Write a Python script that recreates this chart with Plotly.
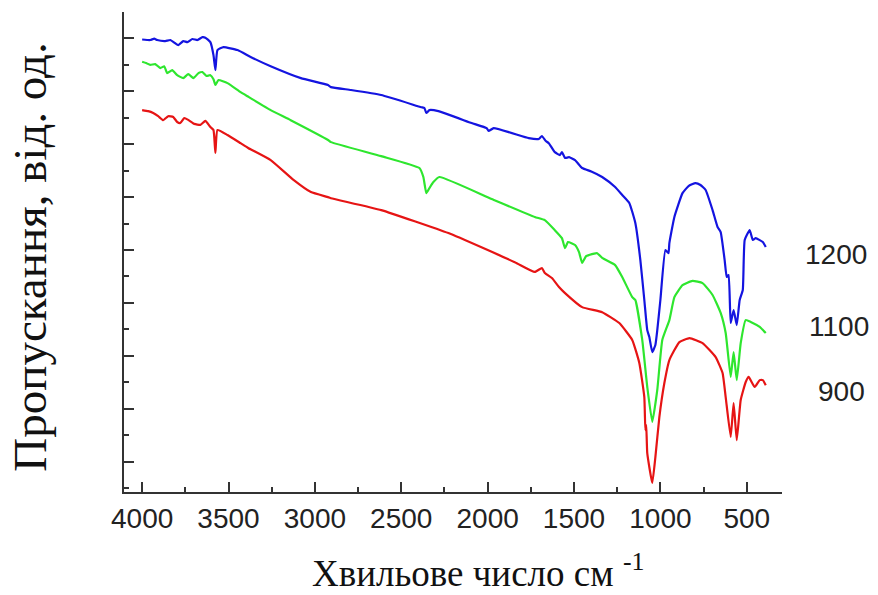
import plotly.graph_objects as go

# Wavenumber (cm^-1) and transmittance (arb. units) for each sample
wn_1200 = [4000, 3953, 3930, 3913, 3866, 3837, 3791, 3762, 3738, 3709, 3680, 3651, 3634, 3605, 3587, 3576,
           3564, 3529, 3448, 3372, 3256, 3081, 2924, 2907, 2791, 2616, 2384, 2366, 2355, 2337, 2285, 2093,
           2006, 1994, 1965, 1762, 1704, 1686, 1663, 1646, 1611, 1582, 1570, 1552, 1529, 1494, 1453, 1400,
           1337, 1262, 1221, 1180, 1145, 1116, 1093, 1076, 1064, 1047, 1029, 1018, 1000, 971, 953, 948,
           919, 872, 837, 797, 768, 738, 698, 669, 651, 628, 616, 605, 593, 576, 558, 541, 523, 512, 483,
           465, 448, 407, 390]
t_1200 = [16.96, 16.94, 16.99, 16.94, 16.90, 16.94, 16.75, 16.90, 16.86, 16.98, 16.94, 17.05, 17.03, 16.86, 16.37, 15.80,
          16.56, 16.67, 16.56, 16.30, 15.95, 15.50, 15.24, 15.16, 15.05, 14.86, 14.40, 14.37, 14.18, 14.29, 14.25, 13.80,
          13.61, 13.50, 13.61, 13.23, 13.20, 13.31, 13.12, 13.04, 12.70, 12.59, 12.70, 12.48, 12.51, 12.40, 12.10, 11.97,
          11.76, 11.38, 11.08, 10.78, 10.02, 8.62, 7.11, 5.97, 5.71, 5.14, 5.41, 5.97, 7.11, 9.00, 8.88, 9.26,
          10.25, 11.15, 11.42, 11.53, 11.46, 11.27, 10.51, 9.87, 9.68, 8.62, 7.98, 8.05, 6.24, 6.73, 6.16, 7.11, 7.49, 9.38, 9.75,
          9.38, 9.45, 9.30, 9.11]

wn_1100 = [4000, 3977, 3953, 3924, 3895, 3872, 3855, 3826, 3797, 3762, 3733, 3703, 3674, 3651, 3628, 3605,
           3587, 3576, 3558, 3506, 3430, 3384, 3256, 3140, 2924, 2907, 2616, 2395, 2372, 2355, 2337, 2314,
           2279, 1977, 1727, 1669, 1611, 1570, 1552, 1535, 1494, 1471, 1453, 1430, 1413, 1366, 1337, 1262,
           1221, 1163, 1145, 1105, 1076, 1047, 1018, 989, 948, 919, 872, 814, 756, 698, 651, 622, 593, 576,
           558, 535, 506, 477, 425, 390]
t_1100 = [16.12, 16.07, 16.00, 16.03, 15.88, 15.95, 15.69, 15.80, 15.61, 15.50, 15.65, 15.50, 15.69, 15.73, 15.58, 15.61,
          15.46, 15.24, 15.43, 15.31, 14.97, 14.79, 14.29, 13.91, 13.16, 13.08, 12.55, 12.10, 11.76, 11.15, 11.34, 11.57,
          11.76, 10.93, 10.25, 10.13, 9.75, 9.45, 9.07, 9.30, 9.19, 8.92, 8.51, 8.77, 8.81, 8.88, 8.70, 8.43,
          7.98, 7.22, 7.11, 5.60, 3.82, 2.50, 3.71, 5.60, 6.35, 7.22, 7.67, 7.83, 7.75, 7.30, 6.62, 5.86, 4.20, 5.14,
          4.08, 5.48, 6.35, 6.28, 6.09, 5.86]

wn_900 = [4000, 3965, 3936, 3907, 3878, 3849, 3820, 3797, 3779, 3756, 3733, 3698, 3663, 3634, 3605, 3587,
          3576, 3564, 3506, 3430, 3384, 3256, 3122, 3023, 2924, 2907, 2616, 2227, 1843, 1727, 1686, 1669,
          1628, 1587, 1552, 1453, 1337, 1238, 1163, 1122, 1093, 1087, 1082, 1076, 1047, 1029, 1006, 977,
          948, 890, 831, 756, 680, 640, 622, 593, 576, 558, 535, 506, 489, 454, 425, 407, 390]
t_900 = [14.29, 14.25, 14.18, 14.06, 13.91, 14.06, 14.03, 13.84, 13.80, 13.99, 13.92, 13.77, 13.73, 13.88, 13.65, 13.54,
         12.67, 13.54, 13.35, 13.04, 12.85, 12.40, 11.64, 11.19, 11.00, 10.96, 10.51, 9.64, 8.54, 8.17, 8.32, 8.13,
         7.94, 7.60, 7.37, 6.84, 6.65, 6.24, 5.60, 4.73, 3.44, 2.19, 2.38, 1.32, 0.19, 1.17, 2.68, 3.97,
         4.84, 5.52, 5.67, 5.48, 4.95, 4.35, 3.44, 1.93, 3.21, 1.81, 3.33, 4.01, 4.20, 3.82, 4.08, 4.08, 3.89]

series_names = ["1200", "1100", "900"]
series_colors = ["#1414e0", "#2ee62e", "#e61414"]

x_tick_vals = [4000, 3500, 3000, 2500, 2000, 1500, 1000, 500]
x_tick_text = ["4000", "3500", "3000", "2500", "2000", "1500", "1000", "500"]

x_title = "Хвильове число см <sup>-1</sup>"
y_title = "Пропускання, від. од."

fig = go.Figure()
for wn, t, name, col in zip([wn_1200, wn_1100, wn_900], [t_1200, t_1100, t_900], series_names, series_colors):
    fig.add_trace(go.Scatter(x=wn, y=t, mode="lines", name=name,
                             line=dict(color=col, width=2.2, shape="spline", smoothing=0.4),
                             showlegend=False))

axis_col = "#333333"
fig.update_layout(
    width=878, height=595,
    margin=dict(l=124, r=96, t=12, b=103),
    paper_bgcolor="white", plot_bgcolor="white",
    font=dict(family="Liberation Sans, Arial, sans-serif", color="#222222"),
    xaxis=dict(range=[4105, 296], showgrid=False, zeroline=False,
               showline=True, linecolor=axis_col, linewidth=2,
               ticks="inside", ticklen=10, tickwidth=2, tickcolor=axis_col,
               tickvals=x_tick_vals, ticktext=x_tick_text,
               tickfont=dict(size=28, family="Liberation Sans, Arial, sans-serif", color="#222222"),
               minor=dict(ticks="inside", ticklen=5, tickwidth=2, tickcolor=axis_col,
                          tick0=250, dtick=500, showgrid=False)),
    yaxis=dict(range=[-0.15, 18], showgrid=False, zeroline=False,
               showline=True, linecolor=axis_col, linewidth=2,
               ticks="inside", ticklen=10, tickwidth=2, tickcolor=axis_col,
               tick0=1, dtick=2, showticklabels=False,
               minor=dict(ticks="inside", ticklen=5, tickwidth=2, tickcolor=axis_col,
                          tick0=0, dtick=2, showgrid=False)),
)

fig.add_annotation(text=x_title, xref="paper", yref="paper", x=0.538, y=-0.163,
                   showarrow=False, xanchor="center", yanchor="middle",
                   font=dict(family="Liberation Serif, Times New Roman, serif", size=37, color="#111111"))
fig.add_annotation(text=y_title, xref="paper", yref="paper", x=-0.143, y=0.49,
                   showarrow=False, xanchor="center", yanchor="middle", textangle=-90,
                   font=dict(family="Liberation Serif, Times New Roman, serif", size=47, color="#111111"))

label_pos = [(1.082, 0.494), (1.087, 0.344), (1.091, 0.21)]
for name, (lx, ly) in zip(series_names, label_pos):
    fig.add_annotation(text=name, xref="paper", yref="paper", x=lx, y=ly, showarrow=False,
                       xanchor="center", yanchor="middle",
                       font=dict(family="Liberation Sans, Arial, sans-serif", size=28, color="#222222"))

fig.write_html("out.html")
